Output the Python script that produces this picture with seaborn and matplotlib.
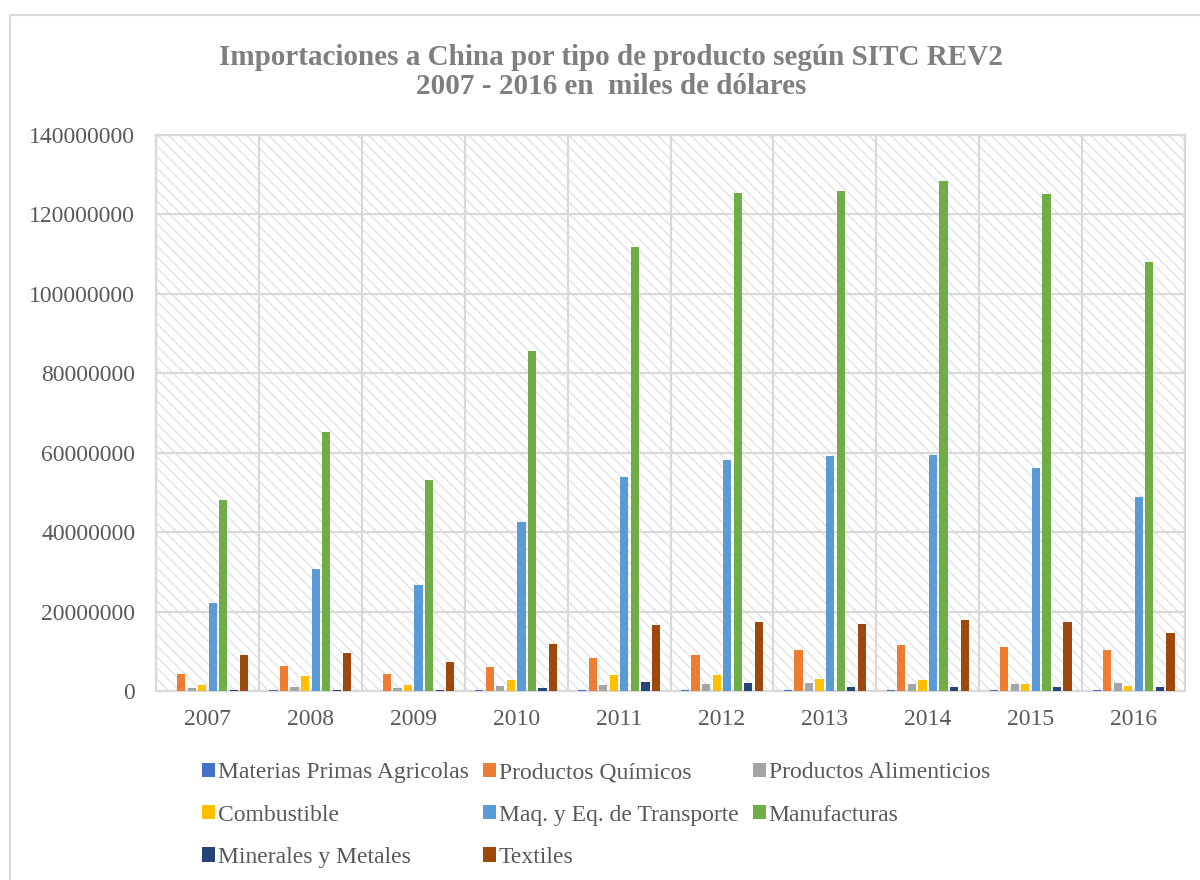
import matplotlib
matplotlib.use('Agg')
import matplotlib.pyplot as plt
import numpy as np
import pandas as pd
import seaborn as sns
from matplotlib.patches import Rectangle
from matplotlib.lines import Line2D
from matplotlib.ticker import FixedLocator, FuncFormatter

# Values (miles de dólares)
years = ['2007', '2008', '2009', '2010', '2011', '2012', '2013', '2014', '2015', '2016']
materias_primas = [50000, 200000, 50000, 200000, 200000, 200000, 200000, 200000, 200000, 200000]
quimicos = [4200000, 6300000, 4300000, 6000000, 8200000, 9100000, 10200000, 11500000, 11200000, 10200000]
alimenticios = [750000, 1000000, 850000, 1250000, 1600000, 1700000, 1900000, 1800000, 1800000, 2000000]
combustible = [1500000, 3700000, 1500000, 2800000, 4000000, 4100000, 3000000, 2800000, 1800000, 1250000]
maquinaria = [22200000, 30800000, 26800000, 42600000, 54000000, 58200000, 59200000, 59300000, 56100000, 48900000]
manufacturas = [48000000, 65300000, 53100000, 85600000, 111900000, 125300000, 125900000, 128300000, 125100000, 107900000]
minerales = [300000, 300000, 300000, 700000, 2300000, 2000000, 1100000, 1100000, 1100000, 900000]
textiles = [9050000, 9500000, 7400000, 11900000, 16600000, 17300000, 16800000, 18000000, 17300000, 14500000]

series = {
    'Materias Primas Agricolas': materias_primas,
    'Productos Químicos': quimicos,
    'Productos Alimenticios': alimenticios,
    'Combustible': combustible,
    'Maq. y Eq. de Transporte': maquinaria,
    'Manufacturas': manufacturas,
    'Minerales y Metales': minerales,
    'Textiles': textiles,
}
colors = ['#4472C4', '#ED7D31', '#A5A5A5', '#FFC000', '#5B9BD5', '#70AD47', '#264478', '#9E480E']

df = pd.DataFrame([
    {'year': y, 'tipo': name, 'value': v}
    for name, vals in series.items()
    for y, v in zip(years, vals)
])

sns.set_style('white')
plt.rcParams['font.family'] = ['Liberation Serif', 'DejaVu Serif']
plt.rcParams['hatch.linewidth'] = 1.0

grid_c = '#d9d9d9'
text_c = '#595959'

fig = plt.figure(figsize=(12, 8.8), dpi=100)
ax = fig.add_axes([156 / 1200, 1 - 691 / 880, 1029 / 1200, 556 / 880])

# hatched plot background
ax.add_patch(Rectangle((0, 0), 1, 1, transform=ax.transAxes, facecolor='white',
                       edgecolor='#e3e3e3', hatch='\\\\\\', linewidth=0, zorder=0))

sns.barplot(data=df, x='year', y='value', hue='tipo', hue_order=list(series.keys()),
            palette=colors, width=0.82, gap=0.22, linewidth=0, saturation=1,
            ax=ax, zorder=3, legend=True)

ax.set_xlim(-0.5, len(years) - 0.5)
ax.set_ylim(0, 140000000)
ax.set_yticks(np.arange(0, 140000001, 20000000))
ax.yaxis.set_major_formatter(FuncFormatter(lambda v, p: f'{int(v)}'))
ax.xaxis.set_minor_locator(FixedLocator(np.arange(-0.5, len(years), 1)))
ax.set_axisbelow(True)
ax.grid(axis='y', which='major', color=grid_c, linewidth=1.6, zorder=1)
ax.grid(axis='x', which='minor', color=grid_c, linewidth=1.6, zorder=1)
ax.grid(axis='x', which='major', visible=False)
for s in ax.spines.values():
    s.set_color(grid_c)
    s.set_linewidth(1.6)
ax.tick_params(axis='both', which='both', length=0, labelsize=17, colors=text_c)
ax.tick_params(axis='y', pad=15)
ax.tick_params(axis='x', pad=13)
ax.set_xlabel('')
ax.set_ylabel('')

# legend: Excel fills row-wise, matplotlib column-wise
handles, labels = ax.get_legend_handles_labels()
ax.get_legend().remove()
order = [0, 3, 6, 1, 4, 7, 2, 5]
fig.legend([handles[i] for i in order], [labels[i] for i in order], ncol=3,
           loc='center', bbox_to_anchor=(596 / 1200, 1 - 815 / 880), frameon=False,
           fontsize=17, labelcolor=text_c, handlelength=0.55, handleheight=0.55,
           handletextpad=0.12, columnspacing=0.6, labelspacing=0.9)

fig.text(611 / 1200, 1 - 72 / 880,
         'Importaciones a China por tipo de producto según SITC REV2\n2007 - 2016 en  miles de dólares',
         ha='center', va='center', fontsize=21, fontweight='bold', color='#7f7f7f',
         linespacing=1.1)

# chart area border
fig.add_artist(Line2D([10 / 1200, 10 / 1200], [0, 1 - 15 / 880], transform=fig.transFigure,
                      color=grid_c, linewidth=1.5))
fig.add_artist(Line2D([10 / 1200, 1], [1 - 15 / 880, 1 - 15 / 880], transform=fig.transFigure,
                      color=grid_c, linewidth=1.5))

fig.savefig('out.png', dpi=100)
